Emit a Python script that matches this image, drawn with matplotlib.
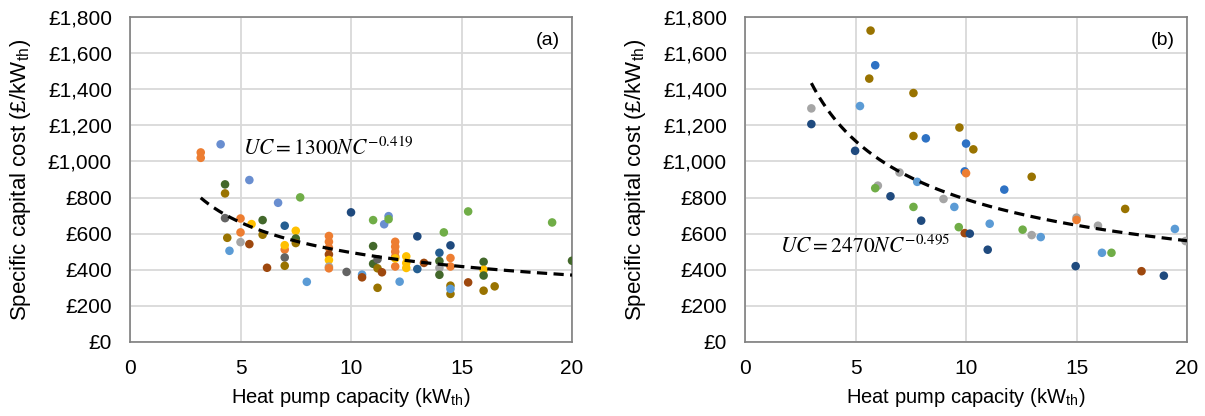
import matplotlib
matplotlib.use("Agg")
import matplotlib.pyplot as plt
import numpy as np
from matplotlib.ticker import FuncFormatter

plt.rcParams['font.family'] = ['Liberation Sans', 'DejaVu Sans']
plt.rcParams['mathtext.fontset'] = 'stix'

# Excel-like series colours
colours = {
    'blue': '#2E72C4', 'orange': '#ED7D31', 'gray': '#A5A5A5', 'yellow': '#FFC000',
    'ltblue': '#5B9BD5', 'green': '#70AD47', 'navy': '#1F4A7E', 'rust': '#9E480E',
    'dgray': '#636363', 'olive': '#997300', 'steel': '#255E91', 'dgreen': '#43682B',
    'mblue': '#698ED0',
}

# Panel (a): capacity (kWth), specific cost (GBP/kWth), source
cap_a = [3.2, 3.2, 4.1, 4.3, 4.3, 4.3, 4.4, 4.5, 5.0, 5.0, 5.0, 5.4, 5.5, 5.4,
         6.0, 6.0, 6.2, 6.7, 7.0, 7.0, 7.0, 7.0, 7.0, 7.5, 7.5, 7.5, 7.7, 8.0,
         9.0, 9.0, 9.0, 9.0, 9.0, 9.0, 9.0, 9.8, 10.0, 10.5, 10.5, 11.0, 11.0,
         11.0, 11.2, 11.2, 11.2, 11.4, 11.5, 11.7, 11.7, 12.2,
         12.0, 12.0, 12.0, 12.0, 12.0, 12.0, 12.5, 12.5, 12.5, 13.0, 13.0, 13.3,
         14.0, 14.0, 14.0, 14.0, 14.2, 14.5, 14.5, 14.5, 14.5, 14.5, 14.5,
         15.3, 15.3, 16.0, 16.0, 16.0, 16.0, 16.5, 19.1, 20.0]
cost_a = [1050, 1020, 1095, 873, 823, 686, 577, 505, 684, 607, 553, 897, 653, 542,
          675, 594, 411, 771, 644, 512, 536, 468, 422, 616, 573, 548, 801, 333,
          587, 555, 522, 485, 454, 417, 408, 388, 718, 373, 358, 675, 531,
          433, 458, 408, 300, 386, 652, 697, 680, 334,
          555, 528, 500, 473, 418, 463, 474, 437, 410, 585, 404, 438,
          494, 448, 410, 372, 607, 535, 465, 418, 312, 266, 294,
          723, 330, 444, 400, 368, 284, 308, 662, 450]
src_a = ['orange', 'orange', 'mblue', 'dgreen', 'olive', 'dgray', 'olive', 'ltblue',
         'orange', 'orange', 'gray', 'mblue', 'yellow', 'rust',
         'dgreen', 'olive', 'rust', 'mblue', 'steel', 'orange', 'yellow', 'dgray',
         'olive', 'yellow', 'dgreen', 'olive', 'green', 'ltblue',
         'orange', 'orange', 'orange', 'rust', 'yellow', 'gray', 'orange', 'dgray',
         'navy', 'ltblue', 'rust', 'green', 'dgreen',
         'dgreen', 'dgray', 'olive', 'olive', 'rust', 'mblue', 'mblue', 'green', 'ltblue',
         'orange', 'orange', 'orange', 'orange', 'orange', 'yellow', 'yellow', 'yellow',
         'yellow', 'navy', 'steel', 'rust',
         'steel', 'dgreen', 'gray', 'dgreen', 'green', 'navy', 'orange', 'orange',
         'olive', 'olive', 'ltblue',
         'green', 'rust', 'dgreen', 'yellow', 'dgreen', 'olive', 'olive', 'green', 'dgreen']

# Panel (b)
cap_b = [5.68, 5.89, 5.62, 7.62, 3.0, 5.2, 3.0, 9.7, 7.62, 8.18, 10.0, 10.33, 4.98,
         6.99, 7.79, 9.94, 10.0, 6.01, 5.89, 6.58, 8.98, 9.47, 7.62, 7.97, 9.67,
         9.94, 10.17, 11.07, 10.98, 12.97, 11.73, 12.56, 12.97, 13.38, 15.0, 15.0,
         14.96, 15.97, 16.15, 16.58, 17.2, 17.94, 18.95, 19.45, 19.93]
cost_b = [1725, 1533, 1459, 1379, 1294, 1307, 1207, 1188, 1141, 1128, 1099, 1067, 1059,
          939, 887, 945, 935, 866, 852, 807, 792, 748, 748, 672, 636,
          603, 600, 655, 511, 915, 844, 622, 592, 581, 689, 676,
          420, 644, 494, 494, 737, 392, 367, 626, 559]
src_b = ['olive', 'blue', 'olive', 'olive', 'gray', 'ltblue', 'navy', 'olive', 'olive',
         'blue', 'blue', 'olive', 'navy',
         'gray', 'ltblue', 'blue', 'orange', 'gray', 'green', 'navy', 'gray', 'ltblue',
         'green', 'navy', 'green',
         'rust', 'navy', 'ltblue', 'navy', 'olive', 'blue', 'green', 'gray', 'ltblue',
         'gray', 'orange',
         'navy', 'gray', 'ltblue', 'green', 'olive', 'rust', 'navy', 'ltblue', 'gray']

# Power-law trendlines UC = a * NC^b
fit_a = (1300, -0.419, 3.2, 20)
fit_b = (2470, -0.495, 3.0, 20)

fig = plt.figure(figsize=(12.05, 4.16), dpi=100)
ax1 = fig.add_axes([0.1079, 0.178, 0.3668, 0.781])
ax2 = fig.add_axes([0.6183, 0.178, 0.3668, 0.781])


def draw(ax, cap, cost, src, fit, eq, eq_xy, tag):
    ax.set_axisbelow(True)
    ax.grid(True, color='#D9D9D9', linewidth=1.3)
    ax.scatter(cap, cost, c=[colours[s] for s in src], s=38, linewidths=0, zorder=3)
    a, b, x0, x1 = fit
    xs = np.linspace(x0, x1, 200)
    ax.plot(xs, a * xs ** b, color='black', linestyle=(0, (3.2, 2.0)), linewidth=2.3, zorder=4)
    ax.text(eq_xy[0], eq_xy[1], eq, fontsize=15.5, va='center', ha='left')
    ax.text(18.9, 1670, tag, fontsize=14, ha='center', va='center')
    ax.set_xlim(0, 20)
    ax.set_ylim(0, 1800)
    ax.set_xticks([0, 5, 10, 15, 20])
    ax.set_yticks(range(0, 1801, 200))
    ax.yaxis.set_major_formatter(FuncFormatter(lambda v, p: '£{:,}'.format(int(v))))
    ax.tick_params(length=0, labelsize=15)
    ax.tick_params(axis='y', pad=13)
    ax.tick_params(axis='x', pad=12)
    for s in ax.spines.values():
        s.set_color('#7F7F7F')
        s.set_linewidth(1.2)
    ax.set_xlabel('Heat pump capacity (kW$_{\\mathregular{th}}$)', fontsize=14.5, labelpad=6)
    ax.set_ylabel('Specific capital cost (£/kW$_{\\mathregular{th}}$)', fontsize=16, labelpad=11)


draw(ax1, cap_a, cost_a, src_a, fit_a, r'$UC = 1300NC^{-0.419}$', (5.1, 1070), '(a)')
draw(ax2, cap_b, cost_b, src_b, fit_b, r'$UC = 2470NC^{-0.495}$', (1.6, 530), '(b)')

fig.savefig('out.png', dpi=100)
